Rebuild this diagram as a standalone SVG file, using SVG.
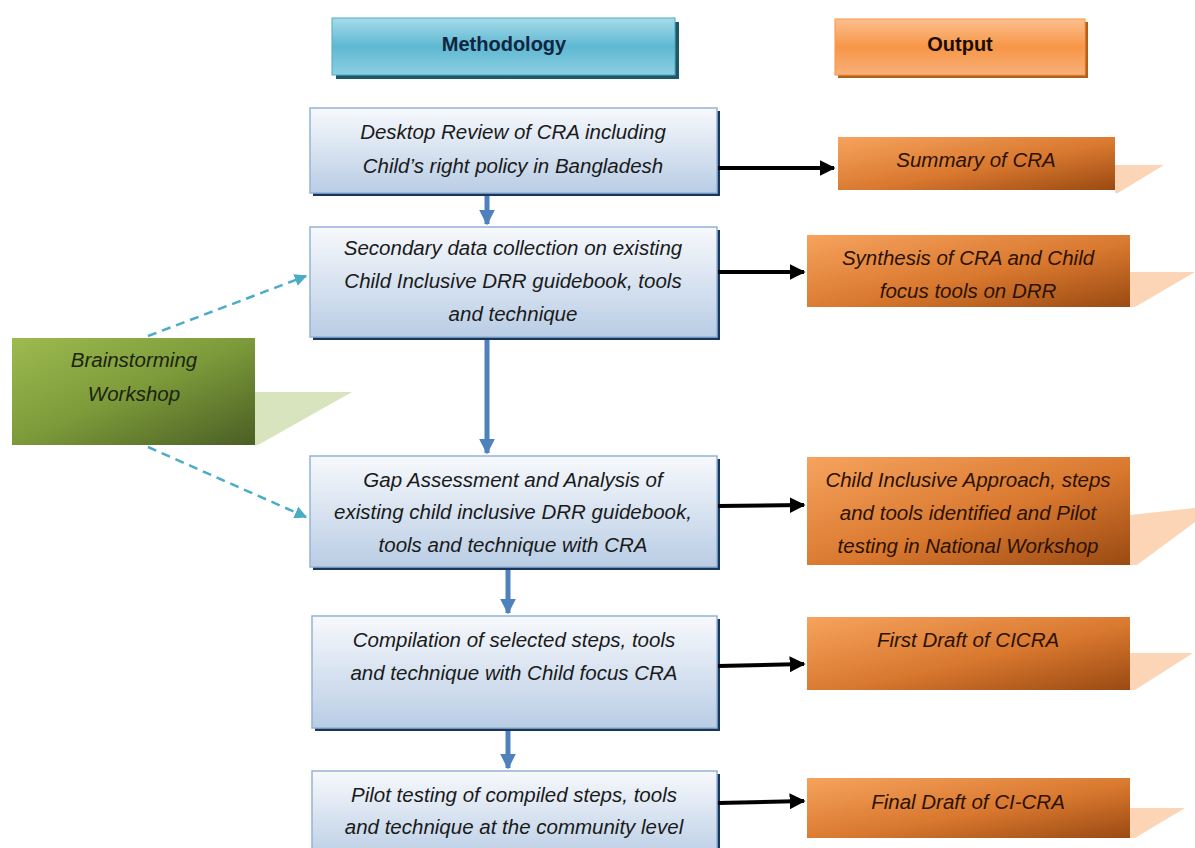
<svg xmlns="http://www.w3.org/2000/svg" width="1195" height="848" viewBox="0 0 1195 848">
<defs>
<linearGradient id="gMeth" x1="0" y1="0" x2="0" y2="1">
<stop offset="0" stop-color="#a6dcea"/><stop offset="0.5" stop-color="#5fb8d2"/><stop offset="1" stop-color="#8ccfe2"/>
</linearGradient>
<linearGradient id="gOutH" x1="0" y1="0" x2="0" y2="1">
<stop offset="0" stop-color="#fbbf8f"/><stop offset="0.5" stop-color="#f79646"/><stop offset="1" stop-color="#f9b07a"/>
</linearGradient>
<linearGradient id="gBlue" x1="0" y1="0" x2="0" y2="1">
<stop offset="0" stop-color="#f7f9fc"/><stop offset="1" stop-color="#b9cde5"/>
</linearGradient>
<linearGradient id="gOrange" x1="0" y1="0" x2="1" y2="1">
<stop offset="0" stop-color="#f6a35e"/><stop offset="0.55" stop-color="#d9782f"/><stop offset="1" stop-color="#9a4a12"/>
</linearGradient>
<linearGradient id="gGreen" x1="0" y1="0" x2="1" y2="1">
<stop offset="0" stop-color="#9dbb4e"/><stop offset="0.5" stop-color="#7c9a3a"/><stop offset="1" stop-color="#4a5e24"/>
</linearGradient>
<marker id="mBlue" viewBox="0 0 10 10" refX="9" refY="5" markerWidth="3.2" markerHeight="3.2" orient="auto" markerUnits="strokeWidth">
<path d="M0,0 L10,5 L0,10 z" fill="#4f81bd"/>
</marker>
<marker id="mBlack" viewBox="0 0 10 10" refX="9" refY="5" markerWidth="4" markerHeight="4" orient="auto" markerUnits="strokeWidth">
<path d="M0,0 L10,5 L0,10 z" fill="#000"/>
</marker>
<marker id="mTeal" viewBox="0 0 10 10" refX="9" refY="5" markerWidth="5" markerHeight="5" orient="auto" markerUnits="strokeWidth">
<path d="M0,0 L10,5 L0,10 z" fill="#4bacc6"/>
</marker>
</defs>
<style>
.t{font-family:"Liberation Sans",Arial,sans-serif;font-style:italic;font-size:20.5px;fill:#1a1a1a;text-anchor:middle}
.h{font-family:"Liberation Sans",Arial,sans-serif;font-weight:bold;font-size:20px;fill:#10253f;text-anchor:middle}
.ot{font-family:"Liberation Sans",Arial,sans-serif;font-style:italic;font-size:20.5px;fill:#2b1200;text-anchor:middle}
.mb{fill:url(#gBlue);stroke:#95b3d7;stroke-width:1.5}
.msh{fill:#17375e}
.ob{fill:url(#gOrange)}
.opeach{fill:#fbd5b5}
.blue{stroke:#4f81bd;stroke-width:5;fill:none;marker-end:url(#mBlue)}
.black{stroke:#000;stroke-width:4;fill:none;marker-end:url(#mBlack)}
.teal{stroke:#4bacc6;stroke-width:2.5;fill:none;stroke-dasharray:9,6;marker-end:url(#mTeal)}
</style>
<rect width="1195" height="848" fill="#fff"/>

<g id="hdr-methodology">
<rect x="336" y="22" width="343" height="57" fill="#215868"/>
<rect x="332" y="18" width="343" height="57" fill="url(#gMeth)" stroke="#4bacc6" stroke-width="1"/>
<text class="h" x="504" y="51">Methodology</text>
</g>
<g id="hdr-output">
<rect x="838" y="22" width="250" height="56" fill="#b45f1a"/>
<rect x="835" y="19" width="250" height="56" fill="url(#gOutH)" stroke="#f79646" stroke-width="1"/>
<text class="h" x="960" y="51" style="fill:#1a0d00">Output</text>
</g>

<g id="m1">
<rect class="msh" x="313" y="111" width="407" height="85"/>
<rect class="mb" x="310" y="108" width="407" height="85"/>
<text class="t" x="513" y="139">Desktop Review of CRA including</text>
<text class="t" x="513" y="173">Child’s right policy in Bangladesh</text>
</g>
<g id="m2">
<rect class="msh" x="313" y="230" width="407" height="110"/>
<rect class="mb" x="310" y="227" width="407" height="110"/>
<text class="t" x="513" y="255">Secondary data collection on existing</text>
<text class="t" x="513" y="288">Child Inclusive DRR guidebook, tools</text>
<text class="t" x="513" y="321">and technique</text>
</g>
<g id="m3">
<rect class="msh" x="313" y="459" width="407" height="111"/>
<rect class="mb" x="310" y="456" width="407" height="111"/>
<text class="t" x="513" y="487">Gap Assessment and Analysis of</text>
<text class="t" x="513" y="519">existing child inclusive DRR guidebook,</text>
<text class="t" x="513" y="552">tools and technique with CRA</text>
</g>
<g id="m4">
<rect class="msh" x="315" y="619" width="405" height="112"/>
<rect class="mb" x="312" y="616" width="405" height="112"/>
<text class="t" x="514" y="647">Compilation of selected steps, tools</text>
<text class="t" x="514" y="680">and technique with Child focus CRA</text>
</g>
<g id="m5">
<rect class="msh" x="315" y="774" width="405" height="90"/>
<rect class="mb" x="312" y="771" width="405" height="90"/>
<text class="t" x="514" y="802">Pilot testing of compiled steps, tools</text>
<text class="t" x="514" y="834">and technique at the community level</text>
</g>

<g id="brainstorm">
<polygon points="255,392 352,392 258,445 255,445" fill="#d7e4bd"/>
<rect x="12" y="338" width="243" height="107" fill="url(#gGreen)"/>
<text class="t" x="134" y="367" style="fill:#1c2410">Brainstorming</text>
<text class="t" x="134" y="401" style="fill:#1c2410">Workshop</text>
</g>

<g id="o1">
<polygon points="1115,165 1164,165 1118,193 1115,193" class="opeach"/>
<rect class="ob" x="838" y="137" width="277" height="53"/>
<text class="ot" x="976" y="167">Summary of CRA</text>
</g>
<g id="o2">
<polygon points="1130,272 1195,272 1135,307 1130,307" class="opeach"/>
<rect class="ob" x="807" y="235" width="323" height="72"/>
<text class="ot" x="968" y="265">Synthesis of CRA and Child</text>
<text class="ot" x="968" y="298">focus tools on DRR</text>
</g>
<g id="o3">
<polygon points="1130,515 1195,508 1195,522 1137,565 1130,565" class="opeach"/>
<rect class="ob" x="807" y="457" width="323" height="108"/>
<text class="ot" x="968" y="487">Child Inclusive Approach, steps</text>
<text class="ot" x="968" y="520">and tools identified and Pilot</text>
<text class="ot" x="968" y="553">testing in National Workshop</text>
</g>
<g id="o4">
<polygon points="1130,653 1193,653 1135,690 1130,690" class="opeach"/>
<rect class="ob" x="807" y="617" width="323" height="73"/>
<text class="ot" x="968" y="647">First Draft of CICRA</text>
</g>
<g id="o5">
<polygon points="1130,808 1185,808 1135,838 1130,838" class="opeach"/>
<rect class="ob" x="807" y="778" width="323" height="60"/>
<text class="ot" x="968" y="809">Final Draft of CI-CRA</text>
</g>

<g id="connectors">
<line class="blue" x1="487" y1="196" x2="487" y2="224"/>
<line class="blue" x1="487" y1="340" x2="487" y2="453"/>
<line class="blue" x1="508" y1="570" x2="508" y2="613"/>
<line class="blue" x1="508" y1="731" x2="508" y2="768"/>
<line class="black" x1="718" y1="168" x2="834" y2="168"/>
<line class="black" x1="718" y1="272" x2="804" y2="272"/>
<line class="black" x1="718" y1="506" x2="804" y2="505"/>
<line class="black" x1="718" y1="666" x2="804" y2="664"/>
<line class="black" x1="718" y1="803" x2="804" y2="801"/>
<line class="teal" x1="148" y1="336" x2="306" y2="276"/>
<line class="teal" x1="148" y1="447" x2="306" y2="517"/>
</g>
</svg>
